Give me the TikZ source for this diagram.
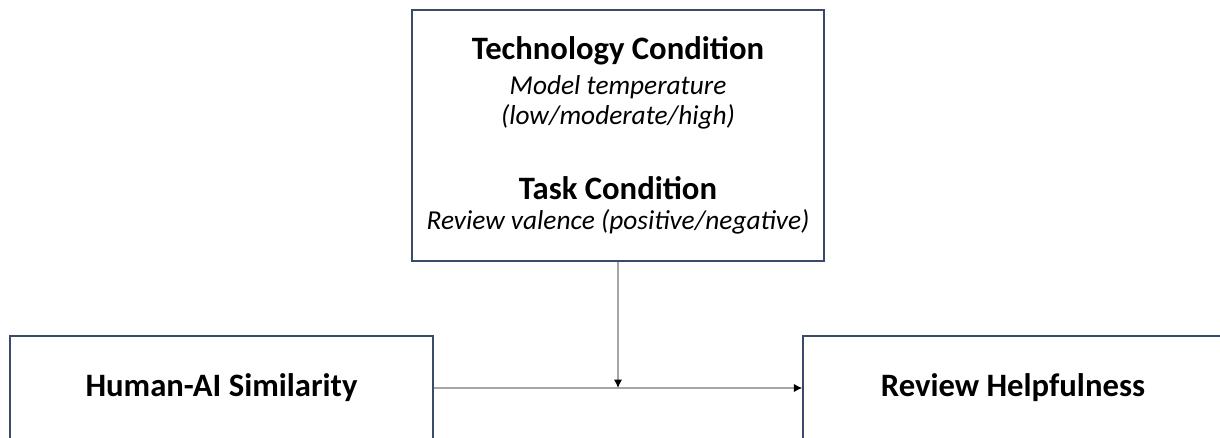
\documentclass[tikz,border=0pt]{standalone}
\usepackage{fontspec}
\setmainfont{Carlito}
\usetikzlibrary{arrows.meta}
\tikzset{>={Latex[width=1.5mm,length=1.5mm]}}
\definecolor{boxline}{HTML}{3B4A6B}
\definecolor{linkgray}{HTML}{A6A6A6}

\begin{document}
\begin{tikzpicture}[x=0.75pt, y=-0.75pt,
  box/.style={draw=boxline, line width=1.1pt, inner sep=0pt, align=center},
  head/.style={font=\bfseries\fontsize{24.5}{22.5}\selectfont},
  link/.style={draw=linkgray, line width=1.1pt, -{Latex[black,width=2.2mm,length=2.2mm]}}]
  \useasboundingbox (0,0) rectangle (1220,438);

  \node[box, minimum width=309pt, minimum height=188.25pt,
    font=\itshape\fontsize{20.5}{22.5}\selectfont] (COND) at (618,135.5)
    {{\bfseries\upshape\fontsize{24.5}{22.5}\selectfont Technology Condition}\\[3.75pt]
     Model temperature\\
     (low/moderate/high)\\[33.75pt]
     {\bfseries\upshape\fontsize{24.5}{22.5}\selectfont Task Condition}\\
     Review valence (positive/negative)};
  \node[box, head, minimum width=317.25pt, minimum height=78pt] (SIM) at (221.5,388) {Human-AI Similarity};
  \node[box, head, minimum width=315pt, minimum height=78pt] (HELP) at (1013,388) {Review Helpfulness};
  \coordinate (JOIN) at (COND.south |- SIM.east);

  \draw[link] (SIM) -- (HELP);
  \draw[link] (COND) -- (JOIN);
\end{tikzpicture}
\end{document}
